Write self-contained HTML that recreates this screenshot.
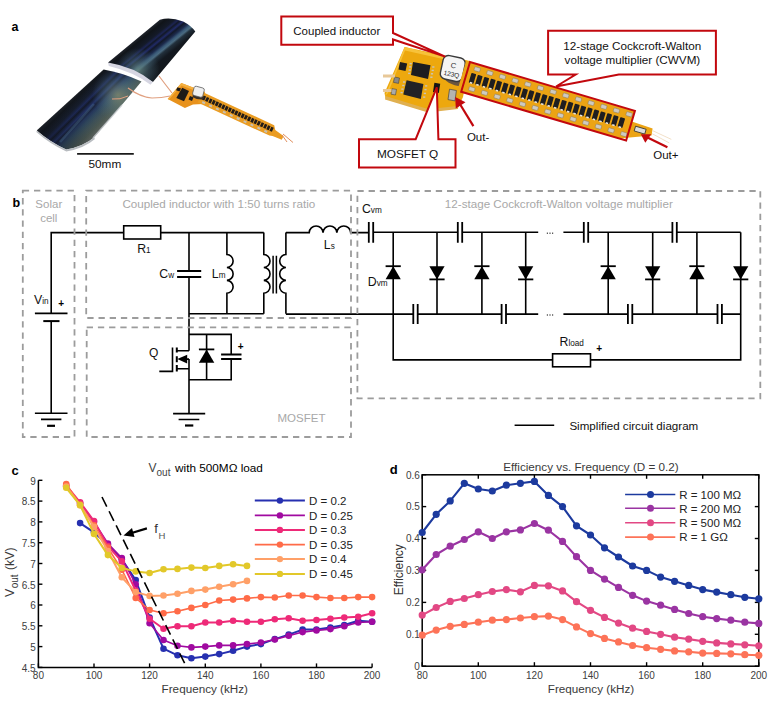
<!DOCTYPE html>
<html><head><meta charset="utf-8"><style>
html,body{margin:0;padding:0;background:#fff;}
svg{display:block;font-family:"Liberation Sans", sans-serif;}
</style></head><body>
<svg width="772" height="709" viewBox="0 0 772 709">
<rect width="772" height="709" fill="#fff"/>
<g>
<text x="11.5" y="31.0" font-size="12.5" fill="#000" text-anchor="start" font-weight="bold" >a</text>
<defs>
<linearGradient id="g1" gradientUnits="userSpaceOnUse" x1="134" y1="41" x2="160" y2="73">
 <stop offset="0" stop-color="#20242c"/><stop offset="0.08" stop-color="#101419"/>
 <stop offset="0.22" stop-color="#141a28"/><stop offset="0.28" stop-color="#1c2452"/>
 <stop offset="0.32" stop-color="#121826"/><stop offset="0.38" stop-color="#202a66"/>
 <stop offset="0.43" stop-color="#121828"/><stop offset="0.5" stop-color="#1c2a4c"/>
 <stop offset="0.56" stop-color="#3a5a78"/><stop offset="0.61" stop-color="#4a6a80"/>
 <stop offset="0.66" stop-color="#22303c"/><stop offset="0.78" stop-color="#13181f"/>
 <stop offset="1" stop-color="#12161b"/>
</linearGradient>
<radialGradient id="g4" gradientUnits="userSpaceOnUse" cx="138" cy="70" r="22">
 <stop offset="0" stop-color="#6a8a80" stop-opacity="0.75"/><stop offset="0.6" stop-color="#4a6a78" stop-opacity="0.35"/><stop offset="1" stop-color="#4a6a78" stop-opacity="0"/>
</radialGradient>
<linearGradient id="g2" gradientUnits="userSpaceOnUse" x1="68" y1="100" x2="100" y2="132.5">
 <stop offset="0" stop-color="#24282e"/><stop offset="0.1" stop-color="#12161c"/>
 <stop offset="0.24" stop-color="#171e2e"/><stop offset="0.31" stop-color="#1e2a5a"/>
 <stop offset="0.36" stop-color="#141a2a"/><stop offset="0.44" stop-color="#24346c"/>
 <stop offset="0.49" stop-color="#18203a"/><stop offset="0.56" stop-color="#283c62"/>
 <stop offset="0.64" stop-color="#344e64"/><stop offset="0.74" stop-color="#44585e"/>
 <stop offset="0.86" stop-color="#526058"/><stop offset="0.95" stop-color="#646c66"/>
 <stop offset="1" stop-color="#888c88"/>
</linearGradient>
<linearGradient id="g3" gradientUnits="userSpaceOnUse" x1="60" y1="150" x2="115" y2="95">
 <stop offset="0" stop-color="#10141c" stop-opacity="0.4"/><stop offset="0.45" stop-color="#10141c" stop-opacity="0.15"/><stop offset="1" stop-color="#10141c" stop-opacity="0"/>
</linearGradient>
<radialGradient id="g5" gradientUnits="userSpaceOnUse" cx="118" cy="95" r="26">
 <stop offset="0" stop-color="#8a9070" stop-opacity="0.7"/><stop offset="0.55" stop-color="#5a7a80" stop-opacity="0.35"/><stop offset="1" stop-color="#4a6a78" stop-opacity="0"/>
</radialGradient>
</defs>
<path d="M108.1,62.5 L159.9,19.8 Q170,16.5 183.2,21.5 Q191,25.5 195.3,31.5 L152.9,82.1 Q140,74 110.9,65.8 Z" fill="url(#g1)"/>
<path d="M108.1,62.5 L159.9,19.8 Q170,16.5 183.2,21.5 Q191,25.5 195.3,31.5 L152.9,82.1 Q140,74 110.9,65.8 Z" fill="url(#g4)"/>
<path d="M108.1,62.5 Q135,67 152.9,82.1 L150.5,84.8 Q134,72 108.8,66 Z" fill="#d6d6e2"/>
<path d="M36.8,130.5 L103.6,69.5 Q122,72.5 141.5,81.5 L120,107 L94,137.4 Q84,146 66.3,149.5 Q50,142 36.8,130.5 Z" fill="url(#g2)"/>
<path d="M36.8,130.5 L103.6,69.5 Q122,72.5 141.5,81.5 L120,107 L94,137.4 Q84,146 66.3,149.5 Q50,142 36.8,130.5 Z" fill="url(#g3)"/>
<path d="M36.8,130.5 L103.6,69.5 Q122,72.5 141.5,81.5 L120,107 L94,137.4 Q84,146 66.3,149.5 Q50,142 36.8,130.5 Z" fill="url(#g5)"/>
<path d="M94,104 L60,142" fill="none" stroke="#5a86a8" stroke-width="2.6" stroke-opacity="0.3"/>
<path d="M122,105 L108,121 L100,130 L93,138" fill="none" stroke="#c8ccd0" stroke-width="1.4" stroke-opacity="0.8"/>
<path d="M36.8,130.5 Q50,142 66.3,149.5 Q84,146 94,137.4 L95,139 Q84,148.5 66.3,151.5 Q50,144 36.3,132 Z" fill="#b8bcc0"/>
<polygon points="181.3,83.1 205,92 203,104 193,104.5 184.9,108.1 167.7,99" fill="#e8921c"/>
<polygon points="181.3,83.1 205,92 204,94 181.5,85.5 169,99.5 167.7,99" fill="#f4b040"/>
<g transform="translate(202.5,92) rotate(24.8)">
<polygon points="0,0 79,0 82,4 92,6 92,10 82,10.5 79,11.5 0,11.5" fill="#ea9c22"/>
<rect x="2.5" y="2.6" width="2.7" height="4.4" fill="#221c18"/>
<rect x="6.0" y="2.6" width="2.7" height="4.4" fill="#221c18"/>
<rect x="9.6" y="2.6" width="2.7" height="4.4" fill="#221c18"/>
<rect x="13.1" y="2.6" width="2.7" height="4.4" fill="#221c18"/>
<rect x="16.7" y="2.6" width="2.7" height="4.4" fill="#221c18"/>
<rect x="20.2" y="2.6" width="2.7" height="4.4" fill="#221c18"/>
<rect x="23.8" y="2.6" width="2.7" height="4.4" fill="#221c18"/>
<rect x="27.3" y="2.6" width="2.7" height="4.4" fill="#221c18"/>
<rect x="30.9" y="2.6" width="2.7" height="4.4" fill="#221c18"/>
<rect x="34.5" y="2.6" width="2.7" height="4.4" fill="#221c18"/>
<rect x="38.0" y="2.6" width="2.7" height="4.4" fill="#221c18"/>
<rect x="41.5" y="2.6" width="2.7" height="4.4" fill="#221c18"/>
<rect x="45.1" y="2.6" width="2.7" height="4.4" fill="#221c18"/>
<rect x="48.6" y="2.6" width="2.7" height="4.4" fill="#221c18"/>
<rect x="52.2" y="2.6" width="2.7" height="4.4" fill="#221c18"/>
<rect x="55.8" y="2.6" width="2.7" height="4.4" fill="#221c18"/>
<rect x="59.3" y="2.6" width="2.7" height="4.4" fill="#221c18"/>
<rect x="62.8" y="2.6" width="2.7" height="4.4" fill="#221c18"/>
<rect x="66.4" y="2.6" width="2.7" height="4.4" fill="#221c18"/>
<rect x="70.0" y="2.6" width="2.7" height="4.4" fill="#221c18"/>
<rect x="73.5" y="2.6" width="2.7" height="4.4" fill="#221c18"/>
<rect x="77.0" y="2.6" width="2.7" height="4.4" fill="#221c18"/>
<rect x="4.0" y="8.2" width="3" height="2" fill="#c8c0b0"/>
<rect x="11.6" y="8.2" width="3" height="2" fill="#c8c0b0"/>
<rect x="19.2" y="8.2" width="3" height="2" fill="#c8c0b0"/>
<rect x="26.8" y="8.2" width="3" height="2" fill="#c8c0b0"/>
<rect x="34.4" y="8.2" width="3" height="2" fill="#c8c0b0"/>
<rect x="42.0" y="8.2" width="3" height="2" fill="#c8c0b0"/>
<rect x="49.6" y="8.2" width="3" height="2" fill="#c8c0b0"/>
<rect x="57.2" y="8.2" width="3" height="2" fill="#c8c0b0"/>
<rect x="64.8" y="8.2" width="3" height="2" fill="#c8c0b0"/>
<rect x="72.4" y="8.2" width="3" height="2" fill="#c8c0b0"/>
</g>
<polygon points="182.2,87.7 189,90.9 184,101.3 176.3,98.1" fill="#1e1a18"/>
<polygon points="177.5,87.2 181,88.5 179.5,91.5 176,90.2" fill="#1e1a18"/>
<polygon points="190,96 193.5,97.5 192,101 188.5,99.5" fill="#1e1a18"/>
<path d="M193,94 L204,97 L203,99.5 Q197,100 192.5,97 Z" fill="#3a3028"/>
<rect x="193.2" y="87" width="10.5" height="9.5" rx="2" fill="#f0f0f0" stroke="#555" stroke-width="0.7" transform="rotate(15 198.5 91.7)"/>
<path d="M159,76 Q165,84 172,93" fill="none" stroke="#e0a080" stroke-width="1.2" />
<path d="M128,88 Q140,97 152,98 Q162,98 170,96" fill="none" stroke="#e0a080" stroke-width="1.2" />
<path d="M112,99 Q120,100 128,96" fill="none" stroke="#e0a080" stroke-width="1.0" />
<path d="M283,134 L293,142.5 M282,135 L287,142" fill="none" stroke="#e09060" stroke-width="1.0" />
<path d="M77.1,153.9 H133.8" fill="none" stroke="#1a1a1a" stroke-width="1.8" />
<text x="88.5" y="168.0" font-size="11.8" fill="#111" text-anchor="start" font-weight="normal" >50mm</text>
<path d="M404.6,47.1 L470,61 L463,97 L458,108 L428,111 L385.5,98 L384.5,93 Z" fill="#eda80e"/>
<path d="M404.6,47.1 L444.8,56.8 L443,59 L405,50.5 L388,93 L385.2,95.7 Z" fill="#f7c23a"/>
<path d="M385.5,96 L428,109 L458,106 L458,109 L428,112.5 L385,99.5 Z" fill="#e0b050"/>
<polygon points="413,62 430.5,65.3 428,78.9 411,75" fill="#1c1c20"/>
<polygon points="406.6,80.2 423.4,84 420.8,99 403.3,94.4" fill="#222226"/>
<rect x="409.6" y="62.9" width="2.2" height="1.4" fill="#c8c4bc"/>
<rect x="432.2" y="66.3" width="2.2" height="1.4" fill="#c8c4bc"/>
<rect x="403.0" y="81.3" width="2.2" height="1.4" fill="#c8c4bc"/>
<rect x="425.1" y="85.2" width="2.2" height="1.4" fill="#c8c4bc"/>
<rect x="409.1" y="66.2" width="2.2" height="1.4" fill="#c8c4bc"/>
<rect x="431.6" y="69.7" width="2.2" height="1.4" fill="#c8c4bc"/>
<rect x="402.2" y="84.8" width="2.2" height="1.4" fill="#c8c4bc"/>
<rect x="424.4" y="88.9" width="2.2" height="1.4" fill="#c8c4bc"/>
<rect x="408.6" y="69.4" width="2.2" height="1.4" fill="#c8c4bc"/>
<rect x="430.9" y="73.1" width="2.2" height="1.4" fill="#c8c4bc"/>
<rect x="401.3" y="88.4" width="2.2" height="1.4" fill="#c8c4bc"/>
<rect x="423.8" y="92.7" width="2.2" height="1.4" fill="#c8c4bc"/>
<rect x="408.1" y="72.7" width="2.2" height="1.4" fill="#c8c4bc"/>
<rect x="430.3" y="76.5" width="2.2" height="1.4" fill="#c8c4bc"/>
<rect x="400.5" y="91.9" width="2.2" height="1.4" fill="#c8c4bc"/>
<rect x="423.1" y="96.4" width="2.2" height="1.4" fill="#c8c4bc"/>
<polygon points="400,62 407.2,63.5 405.5,71 398.5,69.5" fill="#1c1c20"/>
<polygon points="434.4,82.7 440.2,83.8 438.8,93.1 433,92" fill="#141416"/>
<polygon points="449.5,89.2 456.4,90.5 455,100.9 448,99.6" fill="#b4b4b0" stroke="#444" stroke-width="0.7"/>
<polygon points="392,88.6 396.5,89.4 395.5,95 391,94.2" fill="#aaa" stroke="#333" stroke-width="0.5"/>
<polygon points="394.5,77 399.5,78 398.5,83.4 393.5,82.4" fill="#888" stroke="#333" stroke-width="0.5"/>
<path d="M383,76 H395 M383,90.5 H391.5" fill="none" stroke="#e8c898" stroke-width="3.2" />
<path d="M441,74 Q446,85 462,86.5 Q466,84 466,76 L464,70 L441,66 Z" fill="#6a5640"/>
<rect x="441.5" y="56.5" width="22.5" height="24" rx="5.5" fill="#f4f4f4" stroke="#3a3a3a" stroke-width="1.4" transform="rotate(12 452.7 68.5)"/>
<text x="452.7" y="76.5" font-size="6.5" fill="#222" text-anchor="middle" transform="rotate(12 452.7 68.5)">123Q</text>
<text x="452.7" y="68" font-size="7.5" fill="#333" text-anchor="middle" transform="rotate(12 452.7 68.5)">C</text>
<g transform="translate(470,62) rotate(16.5)">
<polygon points="-4,0 172,0 172,11 194,12 195,19 172,28 166,31 -4,31" fill="#eca414"/>
<rect x="4.5" y="10" width="5" height="10" rx="0.8" fill="#1e1e20"/>
<rect x="5.7" y="19" width="2.5" height="1.6" fill="#e8e4dc"/>
<rect x="11.2" y="10" width="5" height="10" rx="0.8" fill="#1e1e20"/>
<rect x="12.4" y="19" width="2.5" height="1.6" fill="#e8e4dc"/>
<rect x="18.0" y="10" width="5" height="10" rx="0.8" fill="#1e1e20"/>
<rect x="19.2" y="19" width="2.5" height="1.6" fill="#e8e4dc"/>
<rect x="24.8" y="10" width="5" height="10" rx="0.8" fill="#1e1e20"/>
<rect x="25.9" y="19" width="2.5" height="1.6" fill="#e8e4dc"/>
<rect x="31.5" y="10" width="5" height="10" rx="0.8" fill="#1e1e20"/>
<rect x="32.7" y="19" width="2.5" height="1.6" fill="#e8e4dc"/>
<rect x="38.2" y="10" width="5" height="10" rx="0.8" fill="#1e1e20"/>
<rect x="39.5" y="19" width="2.5" height="1.6" fill="#e8e4dc"/>
<rect x="45.0" y="10" width="5" height="10" rx="0.8" fill="#1e1e20"/>
<rect x="46.2" y="19" width="2.5" height="1.6" fill="#e8e4dc"/>
<rect x="51.8" y="10" width="5" height="10" rx="0.8" fill="#1e1e20"/>
<rect x="53.0" y="19" width="2.5" height="1.6" fill="#e8e4dc"/>
<rect x="58.5" y="10" width="5" height="10" rx="0.8" fill="#1e1e20"/>
<rect x="59.7" y="19" width="2.5" height="1.6" fill="#e8e4dc"/>
<rect x="65.2" y="10" width="5" height="10" rx="0.8" fill="#1e1e20"/>
<rect x="66.5" y="19" width="2.5" height="1.6" fill="#e8e4dc"/>
<rect x="72.0" y="10" width="5" height="10" rx="0.8" fill="#1e1e20"/>
<rect x="73.2" y="19" width="2.5" height="1.6" fill="#e8e4dc"/>
<rect x="78.8" y="10" width="5" height="10" rx="0.8" fill="#1e1e20"/>
<rect x="80.0" y="19" width="2.5" height="1.6" fill="#e8e4dc"/>
<rect x="85.5" y="10" width="5" height="10" rx="0.8" fill="#1e1e20"/>
<rect x="86.7" y="19" width="2.5" height="1.6" fill="#e8e4dc"/>
<rect x="92.2" y="10" width="5" height="10" rx="0.8" fill="#1e1e20"/>
<rect x="93.5" y="19" width="2.5" height="1.6" fill="#e8e4dc"/>
<rect x="99.0" y="10" width="5" height="10" rx="0.8" fill="#1e1e20"/>
<rect x="100.2" y="19" width="2.5" height="1.6" fill="#e8e4dc"/>
<rect x="105.8" y="10" width="5" height="10" rx="0.8" fill="#1e1e20"/>
<rect x="107.0" y="19" width="2.5" height="1.6" fill="#e8e4dc"/>
<rect x="112.5" y="10" width="5" height="10" rx="0.8" fill="#1e1e20"/>
<rect x="113.7" y="19" width="2.5" height="1.6" fill="#e8e4dc"/>
<rect x="119.2" y="10" width="5" height="10" rx="0.8" fill="#1e1e20"/>
<rect x="120.5" y="19" width="2.5" height="1.6" fill="#e8e4dc"/>
<rect x="126.0" y="10" width="5" height="10" rx="0.8" fill="#1e1e20"/>
<rect x="127.2" y="19" width="2.5" height="1.6" fill="#e8e4dc"/>
<rect x="132.8" y="10" width="5" height="10" rx="0.8" fill="#1e1e20"/>
<rect x="133.9" y="19" width="2.5" height="1.6" fill="#e8e4dc"/>
<rect x="139.5" y="10" width="5" height="10" rx="0.8" fill="#1e1e20"/>
<rect x="140.7" y="19" width="2.5" height="1.6" fill="#e8e4dc"/>
<rect x="146.2" y="10" width="5" height="10" rx="0.8" fill="#1e1e20"/>
<rect x="147.4" y="19" width="2.5" height="1.6" fill="#e8e4dc"/>
<rect x="153.0" y="10" width="5" height="10" rx="0.8" fill="#1e1e20"/>
<rect x="154.2" y="19" width="2.5" height="1.6" fill="#e8e4dc"/>
<rect x="159.8" y="10" width="5" height="10" rx="0.8" fill="#1e1e20"/>
<rect x="160.9" y="19" width="2.5" height="1.6" fill="#e8e4dc"/>
<rect x="6.0" y="3" width="6" height="4" rx="1" fill="#cfcac0" stroke="#8a7a60" stroke-width="0.5"/>
<rect x="6.5" y="23.5" width="6" height="4" rx="1" fill="#cfcac0" stroke="#8a7a60" stroke-width="0.5"/>
<rect x="19.2" y="3" width="6" height="4" rx="1" fill="#cfcac0" stroke="#8a7a60" stroke-width="0.5"/>
<rect x="19.7" y="23.5" width="6" height="4" rx="1" fill="#cfcac0" stroke="#8a7a60" stroke-width="0.5"/>
<rect x="32.4" y="3" width="6" height="4" rx="1" fill="#cfcac0" stroke="#8a7a60" stroke-width="0.5"/>
<rect x="32.9" y="23.5" width="6" height="4" rx="1" fill="#cfcac0" stroke="#8a7a60" stroke-width="0.5"/>
<rect x="45.6" y="3" width="6" height="4" rx="1" fill="#cfcac0" stroke="#8a7a60" stroke-width="0.5"/>
<rect x="46.1" y="23.5" width="6" height="4" rx="1" fill="#cfcac0" stroke="#8a7a60" stroke-width="0.5"/>
<rect x="58.8" y="3" width="6" height="4" rx="1" fill="#cfcac0" stroke="#8a7a60" stroke-width="0.5"/>
<rect x="59.3" y="23.5" width="6" height="4" rx="1" fill="#cfcac0" stroke="#8a7a60" stroke-width="0.5"/>
<rect x="72.0" y="3" width="6" height="4" rx="1" fill="#cfcac0" stroke="#8a7a60" stroke-width="0.5"/>
<rect x="72.5" y="23.5" width="6" height="4" rx="1" fill="#cfcac0" stroke="#8a7a60" stroke-width="0.5"/>
<rect x="85.2" y="3" width="6" height="4" rx="1" fill="#cfcac0" stroke="#8a7a60" stroke-width="0.5"/>
<rect x="85.7" y="23.5" width="6" height="4" rx="1" fill="#cfcac0" stroke="#8a7a60" stroke-width="0.5"/>
<rect x="98.4" y="3" width="6" height="4" rx="1" fill="#cfcac0" stroke="#8a7a60" stroke-width="0.5"/>
<rect x="98.9" y="23.5" width="6" height="4" rx="1" fill="#cfcac0" stroke="#8a7a60" stroke-width="0.5"/>
<rect x="111.6" y="3" width="6" height="4" rx="1" fill="#cfcac0" stroke="#8a7a60" stroke-width="0.5"/>
<rect x="112.1" y="23.5" width="6" height="4" rx="1" fill="#cfcac0" stroke="#8a7a60" stroke-width="0.5"/>
<rect x="124.8" y="3" width="6" height="4" rx="1" fill="#cfcac0" stroke="#8a7a60" stroke-width="0.5"/>
<rect x="125.3" y="23.5" width="6" height="4" rx="1" fill="#cfcac0" stroke="#8a7a60" stroke-width="0.5"/>
<rect x="138.0" y="3" width="6" height="4" rx="1" fill="#cfcac0" stroke="#8a7a60" stroke-width="0.5"/>
<rect x="138.5" y="23.5" width="6" height="4" rx="1" fill="#cfcac0" stroke="#8a7a60" stroke-width="0.5"/>
<rect x="151.2" y="3" width="6" height="4" rx="1" fill="#cfcac0" stroke="#8a7a60" stroke-width="0.5"/>
<rect x="151.7" y="23.5" width="6" height="4" rx="1" fill="#cfcac0" stroke="#8a7a60" stroke-width="0.5"/>
<rect x="164.4" y="3" width="6" height="4" rx="1" fill="#cfcac0" stroke="#8a7a60" stroke-width="0.5"/>
<rect x="164.9" y="23.5" width="6" height="4" rx="1" fill="#cfcac0" stroke="#8a7a60" stroke-width="0.5"/>
<rect x="177" y="14.5" width="11" height="5" fill="#ddd" stroke="#333" stroke-width="0.8"/>
<path d="M195,14 L215,17 M195,17 L214,21" fill="none" stroke="#f0dcc0" stroke-width="0.8" />
<rect x="0" y="0" width="172" height="31" fill="none" stroke="#c2080e" stroke-width="2"/>
</g>
<path d="M281.3,16.6 H393 V33 L445.2,56.6 L393,39.5 V44.7 H281.3 Z" fill="#fff" stroke="#c2080e" stroke-width="2"/>
<text x="293.3" y="35.0" font-size="11.5" fill="#111" text-anchor="start" font-weight="normal" >Coupled inductor</text>
<path d="M359,139.2 H415.7 L436.8,87.4 L438.4,139.2 H455.5 V167.6 H359 Z" fill="#fff" stroke="#c2080e" stroke-width="2"/>
<text x="376.9" y="157.9" font-size="11.8" fill="#111" text-anchor="start" font-weight="normal" >MOSFET Q</text>
<path d="M548.1,30.8 H715.9 V74.6 H618.8 L556,86.5 L575.7,74.6 H548.1 Z" fill="#fff" stroke="#c2080e" stroke-width="2"/>
<text x="632.2" y="50.3" font-size="11.7" fill="#111" text-anchor="middle" font-weight="normal" >12-stage Cockcroft-Walton</text>
<text x="632.4" y="63.7" font-size="11.7" fill="#111" text-anchor="middle" font-weight="normal" >voltage multiplier (CWVM)</text>
<path d="M473.4,126.1 L460.5,105" fill="none" stroke="#c2080e" stroke-width="2.2" />
<polygon points="455.2,97.1 455.8,108.5 465.5,102.3" fill="#c2080e"/>
<text x="466.9" y="140.9" font-size="11.5" fill="#111" text-anchor="start" font-weight="normal" >Out-</text>
<path d="M667.4,147.3 L647.5,137.5" fill="none" stroke="#c2080e" stroke-width="2.2" />
<polygon points="640.8,134.3 645.3,142.7 651.2,134.3" fill="#c2080e"/>
<text x="653.2" y="159.4" font-size="11.5" fill="#111" text-anchor="start" font-weight="normal" >Out+</text>
</g>
<g>
<text x="48.8" y="208.3" font-size="11.5" fill="#a8a8a8" text-anchor="middle" font-weight="normal" >Solar</text>
<text x="48.8" y="222.4" font-size="11.5" fill="#a8a8a8" text-anchor="middle" font-weight="normal" >cell</text>
<text x="218.8" y="207.5" font-size="11.65" fill="#a8a8a8" text-anchor="middle" font-weight="normal" >Coupled inductor with 1:50 turns ratio</text>
<text x="558.8" y="208.0" font-size="11.65" fill="#a8a8a8" text-anchor="middle" font-weight="normal" >12-stage Cockcroft-Walton voltage multiplier</text>
<text x="301.5" y="422.0" font-size="11.5" fill="#a8a8a8" text-anchor="middle" font-weight="normal" >MOSFET</text>
<text x="12.5" y="207.0" font-size="12.5" fill="#000" text-anchor="start" font-weight="bold" >b</text>
<path d="M51.2,313.4 V232.6 H123.7" fill="none" stroke="#000" stroke-width="1.6" />
<rect x="123.7" y="225.8" width="37" height="13.2" fill="none" stroke="#000" stroke-width="1.6"/>
<path d="M160.7,232.6 H263.8" fill="none" stroke="#000" stroke-width="1.6" />
<path d="M34.9,313.4 H67.5" fill="none" stroke="#000" stroke-width="1.6" />
<path d="M43.3,321.1 H59.5" fill="none" stroke="#000" stroke-width="2.0" />
<path d="M51.2,321.1 V413.3" fill="none" stroke="#000" stroke-width="1.6" />
<path d="M34.9,413.3 H67.5 M41,419.4 H61.4" fill="none" stroke="#000" stroke-width="1.6" />
<path d="M47.1,425.8 H55" fill="none" stroke="#000" stroke-width="2.2" />
<text x="34.0" y="304.4" font-size="12.3" fill="#111" text-anchor="start" font-weight="normal" >V<tspan font-size="8.2">in</tspan></text>
<text x="61.2" y="306.5" font-size="10" fill="#000" text-anchor="middle" font-weight="bold" >+</text>
<text x="137.2" y="253.0" font-size="12.3" fill="#111" text-anchor="start" font-weight="normal" >R<tspan font-size="8.2">1</tspan></text>
<path d="M189,232.6 V270.9 M189,276.9 V350.7" fill="none" stroke="#000" stroke-width="1.6" />
<path d="M177.1,270.9 H201.2 M177.1,276.9 H201.2" fill="none" stroke="#000" stroke-width="2.0" />
<text x="159.3" y="277.7" font-size="12.3" fill="#111" text-anchor="start" font-weight="normal" >C<tspan font-size="8.2">w</tspan></text>
<path d="M226.9,232.6 V254.5 a6.47,6.47 0 0 1 0,12.93 a6.47,6.47 0 0 1 0,12.93 a6.47,6.47 0 0 1 0,12.93  V313.8" fill="none" stroke="#000" stroke-width="1.6" />
<text x="211.8" y="277.6" font-size="12.3" fill="#111" text-anchor="start" font-weight="normal" >L<tspan font-size="8.2">m</tspan></text>
<path d="M263.8,232.6 V254.5 a6.47,6.47 0 0 1 0,12.93 a6.47,6.47 0 0 1 0,12.93 a6.47,6.47 0 0 1 0,12.93  V313.8" fill="none" stroke="#000" stroke-width="1.6" />
<path d="M189,313.8 H263.8" fill="none" stroke="#000" stroke-width="1.6" />
<path d="M273.1,255.7 V293.6 M276.4,255.7 V293.6" fill="none" stroke="#000" stroke-width="1.5" />
<path d="M285.9,232.6 V254.5 a6.47,6.47 0 0 0 0,12.93 a6.47,6.47 0 0 0 0,12.93 a6.47,6.47 0 0 0 0,12.93  V313.8" fill="none" stroke="#000" stroke-width="1.6" />
<path d="M285.9,232.6 H309.2 a6.92,6.92 0 0 1 13.83,0 a6.92,6.92 0 0 1 13.83,0 a6.92,6.92 0 0 1 13.83,0  H368.8" fill="none" stroke="#000" stroke-width="1.6" />
<text x="323.8" y="249.2" font-size="12.3" fill="#111" text-anchor="start" font-weight="normal" >L<tspan font-size="8.2">s</tspan></text>
<path d="M368.8,222.0 V242.8 M373.2,222.0 V242.8" fill="none" stroke="#000" stroke-width="1.8" />
<text x="361.9" y="212.7" font-size="12.3" fill="#111" text-anchor="start" font-weight="normal" >C<tspan font-size="8.2">vm</tspan></text>
<text x="367.8" y="285.7" font-size="12.3" fill="#111" text-anchor="start" font-weight="normal" >D<tspan font-size="8.2">vm</tspan></text>
<path d="M373.2,232.3 H457.9 M462.2,232.3 H538.2" fill="none" stroke="#000" stroke-width="1.6" />
<path d="M457.8,221.9 V242.7 M462.2,221.9 V242.7" fill="none" stroke="#000" stroke-width="1.8" />
<path d="M285.9,314.1 H413.3 M417.7,314.1 H501.6 M506,314.1 H538.2" fill="none" stroke="#000" stroke-width="1.6" />
<path d="M413.3,304.1 V324.1 M417.7,304.1 V324.1" fill="none" stroke="#000" stroke-width="1.8" />
<path d="M501.6,304.1 V324.1 M506.0,304.1 V324.1" fill="none" stroke="#000" stroke-width="1.8" />
<path d="M563.4,232.3 H583.8 M588.2,232.3 H672.4 M676.8,232.3 H740.7" fill="none" stroke="#000" stroke-width="1.6" />
<path d="M583.8,221.9 V242.7 M588.2,221.9 V242.7" fill="none" stroke="#000" stroke-width="1.8" />
<path d="M672.4,221.9 V242.7 M676.8,221.9 V242.7" fill="none" stroke="#000" stroke-width="1.8" />
<path d="M563.4,314.1 H627.9 M632.3,314.1 H717.5 M721.9,314.1 H740.7" fill="none" stroke="#000" stroke-width="1.6" />
<path d="M627.9,304.1 V324.1 M632.3,304.1 V324.1" fill="none" stroke="#000" stroke-width="1.8" />
<path d="M717.5,304.1 V324.1 M721.9,304.1 V324.1" fill="none" stroke="#000" stroke-width="1.8" />
<path d="M393.2,232.3 V314.1" fill="none" stroke="#000" stroke-width="1.6" />
<polygon points="393.2,266.2 385.6,279.2 400.8,279.2" fill="#000"/>
<path d="M385.6,266.2 H400.8" fill="none" stroke="#000" stroke-width="1.8" />
<path d="M437.0,232.3 V314.1" fill="none" stroke="#000" stroke-width="1.6" />
<polygon points="437.0,279.4 429.4,266.2 444.6,266.2" fill="#000"/>
<path d="M429.4,279.4 H444.6" fill="none" stroke="#000" stroke-width="1.8" />
<path d="M481.9,232.3 V314.1" fill="none" stroke="#000" stroke-width="1.6" />
<polygon points="481.9,266.2 474.3,279.2 489.5,279.2" fill="#000"/>
<path d="M474.3,266.2 H489.5" fill="none" stroke="#000" stroke-width="1.8" />
<path d="M525.7,232.3 V314.1" fill="none" stroke="#000" stroke-width="1.6" />
<polygon points="525.7,279.4 518.1,266.2 533.3,266.2" fill="#000"/>
<path d="M518.1,279.4 H533.3" fill="none" stroke="#000" stroke-width="1.8" />
<path d="M608.2,232.3 V314.1" fill="none" stroke="#000" stroke-width="1.6" />
<polygon points="608.2,266.2 600.6,279.2 615.8,279.2" fill="#000"/>
<path d="M600.6,266.2 H615.8" fill="none" stroke="#000" stroke-width="1.8" />
<path d="M652.7,232.3 V314.1" fill="none" stroke="#000" stroke-width="1.6" />
<polygon points="652.7,279.4 645.1,266.2 660.3,266.2" fill="#000"/>
<path d="M645.1,279.4 H660.3" fill="none" stroke="#000" stroke-width="1.8" />
<path d="M696.9,232.3 V314.1" fill="none" stroke="#000" stroke-width="1.6" />
<polygon points="696.9,266.2 689.3,279.2 704.5,279.2" fill="#000"/>
<path d="M689.3,266.2 H704.5" fill="none" stroke="#000" stroke-width="1.8" />
<path d="M740.7,232.3 V314.1" fill="none" stroke="#000" stroke-width="1.6" />
<polygon points="740.7,279.4 733.1,266.2 748.3,266.2" fill="#000"/>
<path d="M733.1,279.4 H748.3" fill="none" stroke="#000" stroke-width="1.8" />
<rect x="546.8" y="232.6" width="1.2" height="1.2" fill="#333"/>
<rect x="549.4" y="232.6" width="1.2" height="1.2" fill="#333"/>
<rect x="552.0" y="232.6" width="1.2" height="1.2" fill="#333"/>
<rect x="546.8" y="314.4" width="1.2" height="1.2" fill="#333"/>
<rect x="549.4" y="314.4" width="1.2" height="1.2" fill="#333"/>
<rect x="552.0" y="314.4" width="1.2" height="1.2" fill="#333"/>
<path d="M393.2,314.1 V359.9 H552.6 M590.5,359.9 H740.7 V314.1" fill="none" stroke="#000" stroke-width="1.6" />
<rect x="552.6" y="353.8" width="37.9" height="13" fill="none" stroke="#000" stroke-width="1.6"/>
<text x="559.5" y="345.7" font-size="12.3" fill="#111" text-anchor="start" font-weight="normal" >R<tspan font-size="8.2">load</tspan></text>
<text x="599.2" y="352.0" font-size="10" fill="#000" text-anchor="middle" font-weight="bold" >+</text>
<path d="M189,334.4 H231.2 V354.4 M231.2,359.1 V379.7 H189" fill="none" stroke="#000" stroke-width="1.6" />
<path d="M221.1,354.4 H241.5 M221.1,359.1 H241.5" fill="none" stroke="#000" stroke-width="2.0" />
<text x="240.6" y="350.0" font-size="10" fill="#000" text-anchor="middle" font-weight="bold" >+</text>
<path d="M206.6,334.4 V379.7" fill="none" stroke="#000" stroke-width="1.6" />
<polygon points="206.6,349.4 198.9,362.8 214.3,362.8" fill="#000"/>
<path d="M198.9,349.4 H214.3" fill="none" stroke="#000" stroke-width="1.8" />
<path d="M176.8,350.7 H189 M176.8,368.7 H189 V413.6 M189,359.1 V368.7 M185,359.1 H189" fill="none" stroke="#000" stroke-width="1.6" />
<polygon points="177.3,359.1 187.2,354.8 187.2,363.4" fill="#000"/>
<path d="M176.8,347.6 V352.5 M176.8,356.2 V362.3 M176.8,365 V371.4" fill="none" stroke="#000" stroke-width="2.0" />
<path d="M172.5,347.6 V371.4 H159.3" fill="none" stroke="#000" stroke-width="1.6" />
<text x="148.9" y="357.3" font-size="12" fill="#111" text-anchor="start" font-weight="normal" >Q</text>
<path d="M173.1,413.6 H205.2 M178.6,419.5 H199.3" fill="none" stroke="#000" stroke-width="1.6" />
<path d="M185,425.5 H193.3" fill="none" stroke="#000" stroke-width="2.2" />
<path d="M22.8,190.6 H74.5 V437 H22.8 Z" fill="none" stroke="#9c9c9c" stroke-width="1.8" stroke-dasharray="6.3,4.9"/>
<path d="M86.2,190.6 H351 V318 H86.2 Z" fill="none" stroke="#9c9c9c" stroke-width="1.8" stroke-dasharray="6.3,4.9"/>
<path d="M86.7,327.4 H351 V437 H86.7 Z" fill="none" stroke="#9c9c9c" stroke-width="1.8" stroke-dasharray="6.3,4.9"/>
<path d="M357.4,191 H760.3 V398.4 H357.4 Z" fill="none" stroke="#9c9c9c" stroke-width="1.8" stroke-dasharray="6.3,4.9"/>
<path d="M514.6,425.3 H554.2" fill="none" stroke="#000" stroke-width="1.6" />
<text x="569.4" y="430.0" font-size="11.6" fill="#111" text-anchor="start" font-weight="normal" >Simplified circuit diagram</text>
</g>
<g>
<path d="M38.4,480.3 V667.4 H372.1" fill="none" stroke="#000" stroke-width="1.5"/>
<line x1="38.4" y1="667.4" x2="42.4" y2="667.4" stroke="#000" stroke-width="1.4"/>
<text x="35.7" y="671.7" font-size="10" fill="#404040" text-anchor="end" font-weight="normal" >4.5</text>
<line x1="38.4" y1="646.6" x2="42.4" y2="646.6" stroke="#000" stroke-width="1.4"/>
<text x="35.7" y="650.9" font-size="10" fill="#404040" text-anchor="end" font-weight="normal" >5</text>
<line x1="38.4" y1="625.8" x2="42.4" y2="625.8" stroke="#000" stroke-width="1.4"/>
<text x="35.7" y="630.1" font-size="10" fill="#404040" text-anchor="end" font-weight="normal" >5.5</text>
<line x1="38.4" y1="605.0" x2="42.4" y2="605.0" stroke="#000" stroke-width="1.4"/>
<text x="35.7" y="609.3" font-size="10" fill="#404040" text-anchor="end" font-weight="normal" >6</text>
<line x1="38.4" y1="584.2" x2="42.4" y2="584.2" stroke="#000" stroke-width="1.4"/>
<text x="35.7" y="588.5" font-size="10" fill="#404040" text-anchor="end" font-weight="normal" >6.5</text>
<line x1="38.4" y1="563.5" x2="42.4" y2="563.5" stroke="#000" stroke-width="1.4"/>
<text x="35.7" y="567.8" font-size="10" fill="#404040" text-anchor="end" font-weight="normal" >7</text>
<line x1="38.4" y1="542.7" x2="42.4" y2="542.7" stroke="#000" stroke-width="1.4"/>
<text x="35.7" y="547.0" font-size="10" fill="#404040" text-anchor="end" font-weight="normal" >7.5</text>
<line x1="38.4" y1="521.9" x2="42.4" y2="521.9" stroke="#000" stroke-width="1.4"/>
<text x="35.7" y="526.2" font-size="10" fill="#404040" text-anchor="end" font-weight="normal" >8</text>
<line x1="38.4" y1="501.1" x2="42.4" y2="501.1" stroke="#000" stroke-width="1.4"/>
<text x="35.7" y="505.4" font-size="10" fill="#404040" text-anchor="end" font-weight="normal" >8.5</text>
<line x1="38.4" y1="480.3" x2="42.4" y2="480.3" stroke="#000" stroke-width="1.4"/>
<text x="35.7" y="484.6" font-size="10" fill="#404040" text-anchor="end" font-weight="normal" >9</text>
<line x1="38.4" y1="667.4" x2="38.4" y2="663.4" stroke="#000" stroke-width="1.4"/>
<text x="38.4" y="678.9" font-size="10" fill="#404040" text-anchor="middle" font-weight="normal" >80</text>
<line x1="94.0" y1="667.4" x2="94.0" y2="663.4" stroke="#000" stroke-width="1.4"/>
<text x="94.0" y="678.9" font-size="10" fill="#404040" text-anchor="middle" font-weight="normal" >100</text>
<line x1="149.6" y1="667.4" x2="149.6" y2="663.4" stroke="#000" stroke-width="1.4"/>
<text x="149.6" y="678.9" font-size="10" fill="#404040" text-anchor="middle" font-weight="normal" >120</text>
<line x1="205.3" y1="667.4" x2="205.3" y2="663.4" stroke="#000" stroke-width="1.4"/>
<text x="205.3" y="678.9" font-size="10" fill="#404040" text-anchor="middle" font-weight="normal" >140</text>
<line x1="260.9" y1="667.4" x2="260.9" y2="663.4" stroke="#000" stroke-width="1.4"/>
<text x="260.9" y="678.9" font-size="10" fill="#404040" text-anchor="middle" font-weight="normal" >160</text>
<line x1="316.5" y1="667.4" x2="316.5" y2="663.4" stroke="#000" stroke-width="1.4"/>
<text x="316.5" y="678.9" font-size="10" fill="#404040" text-anchor="middle" font-weight="normal" >180</text>
<line x1="372.1" y1="667.4" x2="372.1" y2="663.4" stroke="#000" stroke-width="1.4"/>
<text x="372.1" y="678.9" font-size="10" fill="#404040" text-anchor="middle" font-weight="normal" >200</text>
<text x="204.8" y="692.6" font-size="11.7" fill="#3a3a3a" text-anchor="middle" font-weight="normal" >Frequency (kHz)</text>
<text transform="translate(13.8,597) rotate(-90)" font-size="12.3" fill="#3a3a3a">V<tspan font-size="10" dy="4.5" dx="0.5">out</tspan><tspan dy="-4.5" dx="1"> (kV)</tspan></text>
<text x="148.5" y="471.5" font-size="12" fill="#000"><tspan fill="#444">V</tspan><tspan font-size="10" dy="4.5" fill="#444">out</tspan><tspan dy="-4.5" dx="1.4" font-size="11.75"> with 500M&#937; load</tspan></text>
<polyline points="80.1,523.1 94.0,532.3 107.9,544.7 121.8,559.3 135.7,580.1 149.6,617.5 163.5,648.7 177.5,655.3 191.4,658.3 205.3,656.6 219.2,654.1 233.1,650.8 247.0,646.6 260.9,644.1 274.8,639.1 288.7,634.6 302.6,629.6 316.5,629.6 330.4,627.5 344.3,625.0 358.2,620.8 372.1,621.7" fill="none" stroke="#2630b0" stroke-width="2.0" stroke-linejoin="round"/>
<circle cx="80.1" cy="523.1" r="3.3" fill="#2630b0"/>
<circle cx="94.0" cy="532.3" r="3.3" fill="#2630b0"/>
<circle cx="107.9" cy="544.7" r="3.3" fill="#2630b0"/>
<circle cx="121.8" cy="559.3" r="3.3" fill="#2630b0"/>
<circle cx="135.7" cy="580.1" r="3.3" fill="#2630b0"/>
<circle cx="149.6" cy="617.5" r="3.3" fill="#2630b0"/>
<circle cx="163.5" cy="648.7" r="3.3" fill="#2630b0"/>
<circle cx="177.5" cy="655.3" r="3.3" fill="#2630b0"/>
<circle cx="191.4" cy="658.3" r="3.3" fill="#2630b0"/>
<circle cx="205.3" cy="656.6" r="3.3" fill="#2630b0"/>
<circle cx="219.2" cy="654.1" r="3.3" fill="#2630b0"/>
<circle cx="233.1" cy="650.8" r="3.3" fill="#2630b0"/>
<circle cx="247.0" cy="646.6" r="3.3" fill="#2630b0"/>
<circle cx="260.9" cy="644.1" r="3.3" fill="#2630b0"/>
<circle cx="274.8" cy="639.1" r="3.3" fill="#2630b0"/>
<circle cx="288.7" cy="634.6" r="3.3" fill="#2630b0"/>
<circle cx="302.6" cy="629.6" r="3.3" fill="#2630b0"/>
<circle cx="316.5" cy="629.6" r="3.3" fill="#2630b0"/>
<circle cx="330.4" cy="627.5" r="3.3" fill="#2630b0"/>
<circle cx="344.3" cy="625.0" r="3.3" fill="#2630b0"/>
<circle cx="358.2" cy="620.8" r="3.3" fill="#2630b0"/>
<circle cx="372.1" cy="621.7" r="3.3" fill="#2630b0"/>
<polyline points="66.2,486.5 80.1,503.2 94.0,521.9 107.9,543.5 121.8,558.0 135.7,584.2 149.6,623.3 163.5,640.0 177.5,645.8 191.4,647.4 205.3,646.6 219.2,645.4 233.1,645.4 247.0,644.1 260.9,642.5 274.8,639.5 288.7,635.8 302.6,632.1 316.5,630.4 330.4,629.1 344.3,626.2 358.2,622.5 372.1,621.7" fill="none" stroke="#a00aa0" stroke-width="1.6" stroke-linejoin="round"/>
<circle cx="66.2" cy="486.5" r="3.3" fill="#a00aa0"/>
<circle cx="80.1" cy="503.2" r="3.3" fill="#a00aa0"/>
<circle cx="94.0" cy="521.9" r="3.3" fill="#a00aa0"/>
<circle cx="107.9" cy="543.5" r="3.3" fill="#a00aa0"/>
<circle cx="121.8" cy="558.0" r="3.3" fill="#a00aa0"/>
<circle cx="135.7" cy="584.2" r="3.3" fill="#a00aa0"/>
<circle cx="149.6" cy="623.3" r="3.3" fill="#a00aa0"/>
<circle cx="163.5" cy="640.0" r="3.3" fill="#a00aa0"/>
<circle cx="177.5" cy="645.8" r="3.3" fill="#a00aa0"/>
<circle cx="191.4" cy="647.4" r="3.3" fill="#a00aa0"/>
<circle cx="205.3" cy="646.6" r="3.3" fill="#a00aa0"/>
<circle cx="219.2" cy="645.4" r="3.3" fill="#a00aa0"/>
<circle cx="233.1" cy="645.4" r="3.3" fill="#a00aa0"/>
<circle cx="247.0" cy="644.1" r="3.3" fill="#a00aa0"/>
<circle cx="260.9" cy="642.5" r="3.3" fill="#a00aa0"/>
<circle cx="274.8" cy="639.5" r="3.3" fill="#a00aa0"/>
<circle cx="288.7" cy="635.8" r="3.3" fill="#a00aa0"/>
<circle cx="302.6" cy="632.1" r="3.3" fill="#a00aa0"/>
<circle cx="316.5" cy="630.4" r="3.3" fill="#a00aa0"/>
<circle cx="330.4" cy="629.1" r="3.3" fill="#a00aa0"/>
<circle cx="344.3" cy="626.2" r="3.3" fill="#a00aa0"/>
<circle cx="358.2" cy="622.5" r="3.3" fill="#a00aa0"/>
<circle cx="372.1" cy="621.7" r="3.3" fill="#a00aa0"/>
<polyline points="66.2,485.3 80.1,502.3 94.0,521.0 107.9,546.0 121.8,561.4 135.7,590.5 149.6,618.8 163.5,628.7 177.5,626.2 191.4,626.2 205.3,622.5 219.2,622.5 233.1,620.8 247.0,621.7 260.9,621.7 274.8,619.2 288.7,618.3 302.6,620.8 316.5,620.0 330.4,618.8 344.3,617.5 358.2,616.7 372.1,613.3" fill="none" stroke="#ee2a78" stroke-width="2.0" stroke-linejoin="round"/>
<circle cx="66.2" cy="485.3" r="3.3" fill="#ee2a78"/>
<circle cx="80.1" cy="502.3" r="3.3" fill="#ee2a78"/>
<circle cx="94.0" cy="521.0" r="3.3" fill="#ee2a78"/>
<circle cx="107.9" cy="546.0" r="3.3" fill="#ee2a78"/>
<circle cx="121.8" cy="561.4" r="3.3" fill="#ee2a78"/>
<circle cx="135.7" cy="590.5" r="3.3" fill="#ee2a78"/>
<circle cx="149.6" cy="618.8" r="3.3" fill="#ee2a78"/>
<circle cx="163.5" cy="628.7" r="3.3" fill="#ee2a78"/>
<circle cx="177.5" cy="626.2" r="3.3" fill="#ee2a78"/>
<circle cx="191.4" cy="626.2" r="3.3" fill="#ee2a78"/>
<circle cx="205.3" cy="622.5" r="3.3" fill="#ee2a78"/>
<circle cx="219.2" cy="622.5" r="3.3" fill="#ee2a78"/>
<circle cx="233.1" cy="620.8" r="3.3" fill="#ee2a78"/>
<circle cx="247.0" cy="621.7" r="3.3" fill="#ee2a78"/>
<circle cx="260.9" cy="621.7" r="3.3" fill="#ee2a78"/>
<circle cx="274.8" cy="619.2" r="3.3" fill="#ee2a78"/>
<circle cx="288.7" cy="618.3" r="3.3" fill="#ee2a78"/>
<circle cx="302.6" cy="620.8" r="3.3" fill="#ee2a78"/>
<circle cx="316.5" cy="620.0" r="3.3" fill="#ee2a78"/>
<circle cx="330.4" cy="618.8" r="3.3" fill="#ee2a78"/>
<circle cx="344.3" cy="617.5" r="3.3" fill="#ee2a78"/>
<circle cx="358.2" cy="616.7" r="3.3" fill="#ee2a78"/>
<circle cx="372.1" cy="613.3" r="3.3" fill="#ee2a78"/>
<polyline points="66.2,484.0 80.1,504.4 94.0,525.2 107.9,547.6 121.8,569.7 135.7,598.0 149.6,610.0 163.5,613.3 177.5,611.3 191.4,607.9 205.3,605.0 219.2,600.5 233.1,599.6 247.0,598.4 260.9,597.1 274.8,597.5 288.7,595.5 302.6,595.5 316.5,597.1 330.4,598.0 344.3,598.0 358.2,597.1 372.1,597.1" fill="none" stroke="#ff6b48" stroke-width="1.6" stroke-linejoin="round"/>
<circle cx="66.2" cy="484.0" r="3.3" fill="#ff6b48"/>
<circle cx="80.1" cy="504.4" r="3.3" fill="#ff6b48"/>
<circle cx="94.0" cy="525.2" r="3.3" fill="#ff6b48"/>
<circle cx="107.9" cy="547.6" r="3.3" fill="#ff6b48"/>
<circle cx="121.8" cy="569.7" r="3.3" fill="#ff6b48"/>
<circle cx="135.7" cy="598.0" r="3.3" fill="#ff6b48"/>
<circle cx="149.6" cy="610.0" r="3.3" fill="#ff6b48"/>
<circle cx="163.5" cy="613.3" r="3.3" fill="#ff6b48"/>
<circle cx="177.5" cy="611.3" r="3.3" fill="#ff6b48"/>
<circle cx="191.4" cy="607.9" r="3.3" fill="#ff6b48"/>
<circle cx="205.3" cy="605.0" r="3.3" fill="#ff6b48"/>
<circle cx="219.2" cy="600.5" r="3.3" fill="#ff6b48"/>
<circle cx="233.1" cy="599.6" r="3.3" fill="#ff6b48"/>
<circle cx="247.0" cy="598.4" r="3.3" fill="#ff6b48"/>
<circle cx="260.9" cy="597.1" r="3.3" fill="#ff6b48"/>
<circle cx="274.8" cy="597.5" r="3.3" fill="#ff6b48"/>
<circle cx="288.7" cy="595.5" r="3.3" fill="#ff6b48"/>
<circle cx="302.6" cy="595.5" r="3.3" fill="#ff6b48"/>
<circle cx="316.5" cy="597.1" r="3.3" fill="#ff6b48"/>
<circle cx="330.4" cy="598.0" r="3.3" fill="#ff6b48"/>
<circle cx="344.3" cy="598.0" r="3.3" fill="#ff6b48"/>
<circle cx="358.2" cy="597.1" r="3.3" fill="#ff6b48"/>
<circle cx="372.1" cy="597.1" r="3.3" fill="#ff6b48"/>
<polyline points="66.2,486.5 80.1,505.2 94.0,526.9 107.9,551.0 121.8,577.2 135.7,592.1 149.6,595.9 163.5,595.5 177.5,593.8 191.4,590.9 205.3,589.6 219.2,586.7 233.1,584.2 247.0,580.9" fill="none" stroke="#ffa068" stroke-width="2.0" stroke-linejoin="round"/>
<circle cx="66.2" cy="486.5" r="3.3" fill="#ffa068"/>
<circle cx="80.1" cy="505.2" r="3.3" fill="#ffa068"/>
<circle cx="94.0" cy="526.9" r="3.3" fill="#ffa068"/>
<circle cx="107.9" cy="551.0" r="3.3" fill="#ffa068"/>
<circle cx="121.8" cy="577.2" r="3.3" fill="#ffa068"/>
<circle cx="135.7" cy="592.1" r="3.3" fill="#ffa068"/>
<circle cx="149.6" cy="595.9" r="3.3" fill="#ffa068"/>
<circle cx="163.5" cy="595.5" r="3.3" fill="#ffa068"/>
<circle cx="177.5" cy="593.8" r="3.3" fill="#ffa068"/>
<circle cx="191.4" cy="590.9" r="3.3" fill="#ffa068"/>
<circle cx="205.3" cy="589.6" r="3.3" fill="#ffa068"/>
<circle cx="219.2" cy="586.7" r="3.3" fill="#ffa068"/>
<circle cx="233.1" cy="584.2" r="3.3" fill="#ffa068"/>
<circle cx="247.0" cy="580.9" r="3.3" fill="#ffa068"/>
<polyline points="66.2,487.8 80.1,505.2 94.0,533.9 107.9,555.1 121.8,568.0 135.7,571.4 149.6,573.0 163.5,569.3 177.5,568.9 191.4,567.6 205.3,568.0 219.2,565.9 233.1,564.3 247.0,565.9" fill="none" stroke="#e2c82a" stroke-width="2.0" stroke-linejoin="round"/>
<circle cx="66.2" cy="487.8" r="3.3" fill="#e2c82a"/>
<circle cx="80.1" cy="505.2" r="3.3" fill="#e2c82a"/>
<circle cx="94.0" cy="533.9" r="3.3" fill="#e2c82a"/>
<circle cx="107.9" cy="555.1" r="3.3" fill="#e2c82a"/>
<circle cx="121.8" cy="568.0" r="3.3" fill="#e2c82a"/>
<circle cx="135.7" cy="571.4" r="3.3" fill="#e2c82a"/>
<circle cx="149.6" cy="573.0" r="3.3" fill="#e2c82a"/>
<circle cx="163.5" cy="569.3" r="3.3" fill="#e2c82a"/>
<circle cx="177.5" cy="568.9" r="3.3" fill="#e2c82a"/>
<circle cx="191.4" cy="567.6" r="3.3" fill="#e2c82a"/>
<circle cx="205.3" cy="568.0" r="3.3" fill="#e2c82a"/>
<circle cx="219.2" cy="565.9" r="3.3" fill="#e2c82a"/>
<circle cx="233.1" cy="564.3" r="3.3" fill="#e2c82a"/>
<circle cx="247.0" cy="565.9" r="3.3" fill="#e2c82a"/>
<line x1="102" y1="497" x2="185" y2="664" stroke="#000" stroke-width="1.6" stroke-dasharray="10.7,5.2"/>
<line x1="146.9" y1="528.4" x2="130" y2="533.5" stroke="#000" stroke-width="2.2"/>
<polygon points="123.5,535.5 132,528 134.5,537" fill="#000"/>
<text x="154.3" y="533" font-size="13" fill="#333">f<tspan font-size="9.5" dy="5.7" dx="0.6" fill="#555">H</tspan></text>
<line x1="254.8" y1="500.6" x2="304.9" y2="500.6" stroke="#2630b0" stroke-width="2.0"/>
<circle cx="279.9" cy="500.6" r="3.2" fill="#2630b0"/>
<text x="309.1" y="504.8" font-size="11.5" fill="#222" text-anchor="start" font-weight="normal" >D = 0.2</text>
<line x1="254.8" y1="515.4" x2="304.9" y2="515.4" stroke="#a00aa0" stroke-width="1.6"/>
<circle cx="279.9" cy="515.4" r="3.2" fill="#a00aa0"/>
<text x="309.1" y="519.6" font-size="11.5" fill="#222" text-anchor="start" font-weight="normal" >D = 0.25</text>
<line x1="254.8" y1="529.9" x2="304.9" y2="529.9" stroke="#ee2a78" stroke-width="2.0"/>
<circle cx="279.9" cy="529.9" r="3.2" fill="#ee2a78"/>
<text x="309.1" y="534.1" font-size="11.5" fill="#222" text-anchor="start" font-weight="normal" >D = 0.3</text>
<line x1="254.8" y1="544.6" x2="304.9" y2="544.6" stroke="#ff6b48" stroke-width="1.6"/>
<circle cx="279.9" cy="544.6" r="3.2" fill="#ff6b48"/>
<text x="309.1" y="548.8" font-size="11.5" fill="#222" text-anchor="start" font-weight="normal" >D = 0.35</text>
<line x1="254.8" y1="559.1" x2="304.9" y2="559.1" stroke="#ffa068" stroke-width="2.0"/>
<circle cx="279.9" cy="559.1" r="3.2" fill="#ffa068"/>
<text x="309.1" y="563.3" font-size="11.5" fill="#222" text-anchor="start" font-weight="normal" >D = 0.4</text>
<line x1="254.8" y1="573.9" x2="304.9" y2="573.9" stroke="#e2c82a" stroke-width="2.0"/>
<circle cx="279.9" cy="573.9" r="3.2" fill="#e2c82a"/>
<text x="309.1" y="578.1" font-size="11.5" fill="#222" text-anchor="start" font-weight="normal" >D = 0.45</text>
<text x="11.5" y="475.2" font-size="13" fill="#000" text-anchor="start" font-weight="bold" >c</text>
</g>
<g>
<rect x="422.2" y="474.8" width="336.6" height="191.4" fill="none" stroke="#000" stroke-width="1.5"/>
<line x1="422.2" y1="666.2" x2="426.2" y2="666.2" stroke="#000" stroke-width="1.4"/>
<line x1="758.8" y1="666.2" x2="754.8" y2="666.2" stroke="#000" stroke-width="1.4"/>
<text x="419.8" y="670.0" font-size="10" fill="#404040" text-anchor="end" font-weight="normal" >0</text>
<line x1="422.2" y1="634.3" x2="426.2" y2="634.3" stroke="#000" stroke-width="1.4"/>
<line x1="758.8" y1="634.3" x2="754.8" y2="634.3" stroke="#000" stroke-width="1.4"/>
<text x="419.8" y="638.1" font-size="10" fill="#404040" text-anchor="end" font-weight="normal" >0.1</text>
<line x1="422.2" y1="602.4" x2="426.2" y2="602.4" stroke="#000" stroke-width="1.4"/>
<line x1="758.8" y1="602.4" x2="754.8" y2="602.4" stroke="#000" stroke-width="1.4"/>
<text x="419.8" y="606.2" font-size="10" fill="#404040" text-anchor="end" font-weight="normal" >0.2</text>
<line x1="422.2" y1="570.4" x2="426.2" y2="570.4" stroke="#000" stroke-width="1.4"/>
<line x1="758.8" y1="570.4" x2="754.8" y2="570.4" stroke="#000" stroke-width="1.4"/>
<text x="419.8" y="574.2" font-size="10" fill="#404040" text-anchor="end" font-weight="normal" >0.3</text>
<line x1="422.2" y1="538.5" x2="426.2" y2="538.5" stroke="#000" stroke-width="1.4"/>
<line x1="758.8" y1="538.5" x2="754.8" y2="538.5" stroke="#000" stroke-width="1.4"/>
<text x="419.8" y="542.3" font-size="10" fill="#404040" text-anchor="end" font-weight="normal" >0.4</text>
<line x1="422.2" y1="506.6" x2="426.2" y2="506.6" stroke="#000" stroke-width="1.4"/>
<line x1="758.8" y1="506.6" x2="754.8" y2="506.6" stroke="#000" stroke-width="1.4"/>
<text x="419.8" y="510.4" font-size="10" fill="#404040" text-anchor="end" font-weight="normal" >0.5</text>
<line x1="422.2" y1="474.7" x2="426.2" y2="474.7" stroke="#000" stroke-width="1.4"/>
<line x1="758.8" y1="474.7" x2="754.8" y2="474.7" stroke="#000" stroke-width="1.4"/>
<text x="419.8" y="478.5" font-size="10" fill="#404040" text-anchor="end" font-weight="normal" >0.6</text>
<line x1="422.2" y1="666.2" x2="422.2" y2="662.2" stroke="#000" stroke-width="1.4"/>
<line x1="422.2" y1="474.8" x2="422.2" y2="478.8" stroke="#000" stroke-width="1.4"/>
<text x="422.2" y="678.9" font-size="10" fill="#404040" text-anchor="middle" font-weight="normal" >80</text>
<line x1="478.3" y1="666.2" x2="478.3" y2="662.2" stroke="#000" stroke-width="1.4"/>
<line x1="478.3" y1="474.8" x2="478.3" y2="478.8" stroke="#000" stroke-width="1.4"/>
<text x="478.3" y="678.9" font-size="10" fill="#404040" text-anchor="middle" font-weight="normal" >100</text>
<line x1="534.4" y1="666.2" x2="534.4" y2="662.2" stroke="#000" stroke-width="1.4"/>
<line x1="534.4" y1="474.8" x2="534.4" y2="478.8" stroke="#000" stroke-width="1.4"/>
<text x="534.4" y="678.9" font-size="10" fill="#404040" text-anchor="middle" font-weight="normal" >120</text>
<line x1="590.5" y1="666.2" x2="590.5" y2="662.2" stroke="#000" stroke-width="1.4"/>
<line x1="590.5" y1="474.8" x2="590.5" y2="478.8" stroke="#000" stroke-width="1.4"/>
<text x="590.5" y="678.9" font-size="10" fill="#404040" text-anchor="middle" font-weight="normal" >140</text>
<line x1="646.6" y1="666.2" x2="646.6" y2="662.2" stroke="#000" stroke-width="1.4"/>
<line x1="646.6" y1="474.8" x2="646.6" y2="478.8" stroke="#000" stroke-width="1.4"/>
<text x="646.6" y="678.9" font-size="10" fill="#404040" text-anchor="middle" font-weight="normal" >160</text>
<line x1="702.7" y1="666.2" x2="702.7" y2="662.2" stroke="#000" stroke-width="1.4"/>
<line x1="702.7" y1="474.8" x2="702.7" y2="478.8" stroke="#000" stroke-width="1.4"/>
<text x="702.7" y="678.9" font-size="10" fill="#404040" text-anchor="middle" font-weight="normal" >180</text>
<line x1="758.8" y1="666.2" x2="758.8" y2="662.2" stroke="#000" stroke-width="1.4"/>
<line x1="758.8" y1="474.8" x2="758.8" y2="478.8" stroke="#000" stroke-width="1.4"/>
<text x="758.8" y="678.9" font-size="10" fill="#404040" text-anchor="middle" font-weight="normal" >200</text>
<text x="591.0" y="692.6" font-size="11.7" fill="#3a3a3a" text-anchor="middle" font-weight="normal" >Frequency (kHz)</text>
<text transform="translate(403,595.3) rotate(-90)" font-size="12" fill="#333">Efficiency</text>
<text x="591.0" y="471.0" font-size="11.7" fill="#3a3a3a" text-anchor="middle" font-weight="normal" >Efficiency vs. Frequency (D = 0.2)</text>
<polyline points="422.2,532.5 436.2,514.3 450.2,500.9 464.3,483.3 478.3,489.0 492.3,491.0 506.4,485.2 520.4,483.3 534.4,481.4 548.4,495.4 562.5,506.6 576.5,525.8 590.5,535.0 604.5,547.8 618.5,557.0 632.6,566.0 646.6,570.4 660.6,577.1 674.6,581.3 688.7,585.4 702.7,589.6 716.7,592.1 730.8,594.7 744.8,597.3 758.8,598.8" fill="none" stroke="#1c3a9e" stroke-width="2.1" stroke-linejoin="round"/>
<circle cx="422.2" cy="532.5" r="3.6" fill="#1c3a9e"/>
<circle cx="436.2" cy="514.3" r="3.6" fill="#1c3a9e"/>
<circle cx="450.2" cy="500.9" r="3.6" fill="#1c3a9e"/>
<circle cx="464.3" cy="483.3" r="3.6" fill="#1c3a9e"/>
<circle cx="478.3" cy="489.0" r="3.6" fill="#1c3a9e"/>
<circle cx="492.3" cy="491.0" r="3.6" fill="#1c3a9e"/>
<circle cx="506.4" cy="485.2" r="3.6" fill="#1c3a9e"/>
<circle cx="520.4" cy="483.3" r="3.6" fill="#1c3a9e"/>
<circle cx="534.4" cy="481.4" r="3.6" fill="#1c3a9e"/>
<circle cx="548.4" cy="495.4" r="3.6" fill="#1c3a9e"/>
<circle cx="562.5" cy="506.6" r="3.6" fill="#1c3a9e"/>
<circle cx="576.5" cy="525.8" r="3.6" fill="#1c3a9e"/>
<circle cx="590.5" cy="535.0" r="3.6" fill="#1c3a9e"/>
<circle cx="604.5" cy="547.8" r="3.6" fill="#1c3a9e"/>
<circle cx="618.5" cy="557.0" r="3.6" fill="#1c3a9e"/>
<circle cx="632.6" cy="566.0" r="3.6" fill="#1c3a9e"/>
<circle cx="646.6" cy="570.4" r="3.6" fill="#1c3a9e"/>
<circle cx="660.6" cy="577.1" r="3.6" fill="#1c3a9e"/>
<circle cx="674.6" cy="581.3" r="3.6" fill="#1c3a9e"/>
<circle cx="688.7" cy="585.4" r="3.6" fill="#1c3a9e"/>
<circle cx="702.7" cy="589.6" r="3.6" fill="#1c3a9e"/>
<circle cx="716.7" cy="592.1" r="3.6" fill="#1c3a9e"/>
<circle cx="730.8" cy="594.7" r="3.6" fill="#1c3a9e"/>
<circle cx="744.8" cy="597.3" r="3.6" fill="#1c3a9e"/>
<circle cx="758.8" cy="598.8" r="3.6" fill="#1c3a9e"/>
<polyline points="422.2,569.8 436.2,554.5 450.2,546.2 464.3,539.5 478.3,531.8 492.3,538.5 506.4,531.8 520.4,529.9 534.4,523.5 548.4,530.2 562.5,541.4 576.5,556.7 590.5,570.4 604.5,579.1 618.5,587.4 632.6,595.3 646.6,601.1 660.6,605.2 674.6,609.4 688.7,613.5 702.7,616.7 716.7,618.6 730.8,620.2 744.8,622.2 758.8,623.4" fill="none" stroke="#9a34a2" stroke-width="2.1" stroke-linejoin="round"/>
<circle cx="422.2" cy="569.8" r="3.6" fill="#9a34a2"/>
<circle cx="436.2" cy="554.5" r="3.6" fill="#9a34a2"/>
<circle cx="450.2" cy="546.2" r="3.6" fill="#9a34a2"/>
<circle cx="464.3" cy="539.5" r="3.6" fill="#9a34a2"/>
<circle cx="478.3" cy="531.8" r="3.6" fill="#9a34a2"/>
<circle cx="492.3" cy="538.5" r="3.6" fill="#9a34a2"/>
<circle cx="506.4" cy="531.8" r="3.6" fill="#9a34a2"/>
<circle cx="520.4" cy="529.9" r="3.6" fill="#9a34a2"/>
<circle cx="534.4" cy="523.5" r="3.6" fill="#9a34a2"/>
<circle cx="548.4" cy="530.2" r="3.6" fill="#9a34a2"/>
<circle cx="562.5" cy="541.4" r="3.6" fill="#9a34a2"/>
<circle cx="576.5" cy="556.7" r="3.6" fill="#9a34a2"/>
<circle cx="590.5" cy="570.4" r="3.6" fill="#9a34a2"/>
<circle cx="604.5" cy="579.1" r="3.6" fill="#9a34a2"/>
<circle cx="618.5" cy="587.4" r="3.6" fill="#9a34a2"/>
<circle cx="632.6" cy="595.3" r="3.6" fill="#9a34a2"/>
<circle cx="646.6" cy="601.1" r="3.6" fill="#9a34a2"/>
<circle cx="660.6" cy="605.2" r="3.6" fill="#9a34a2"/>
<circle cx="674.6" cy="609.4" r="3.6" fill="#9a34a2"/>
<circle cx="688.7" cy="613.5" r="3.6" fill="#9a34a2"/>
<circle cx="702.7" cy="616.7" r="3.6" fill="#9a34a2"/>
<circle cx="716.7" cy="618.6" r="3.6" fill="#9a34a2"/>
<circle cx="730.8" cy="620.2" r="3.6" fill="#9a34a2"/>
<circle cx="744.8" cy="622.2" r="3.6" fill="#9a34a2"/>
<circle cx="758.8" cy="623.4" r="3.6" fill="#9a34a2"/>
<polyline points="422.2,615.1 436.2,607.5 450.2,601.4 464.3,598.5 478.3,594.7 492.3,591.5 506.4,589.6 520.4,591.8 534.4,585.4 548.4,585.8 562.5,590.9 576.5,601.7 590.5,610.3 604.5,617.4 618.5,623.1 632.6,628.2 646.6,631.4 660.6,634.3 674.6,637.2 688.7,639.1 702.7,641.3 716.7,642.9 730.8,643.9 744.8,644.8 758.8,645.8" fill="none" stroke="#e24884" stroke-width="2.1" stroke-linejoin="round"/>
<circle cx="422.2" cy="615.1" r="3.6" fill="#e24884"/>
<circle cx="436.2" cy="607.5" r="3.6" fill="#e24884"/>
<circle cx="450.2" cy="601.4" r="3.6" fill="#e24884"/>
<circle cx="464.3" cy="598.5" r="3.6" fill="#e24884"/>
<circle cx="478.3" cy="594.7" r="3.6" fill="#e24884"/>
<circle cx="492.3" cy="591.5" r="3.6" fill="#e24884"/>
<circle cx="506.4" cy="589.6" r="3.6" fill="#e24884"/>
<circle cx="520.4" cy="591.8" r="3.6" fill="#e24884"/>
<circle cx="534.4" cy="585.4" r="3.6" fill="#e24884"/>
<circle cx="548.4" cy="585.8" r="3.6" fill="#e24884"/>
<circle cx="562.5" cy="590.9" r="3.6" fill="#e24884"/>
<circle cx="576.5" cy="601.7" r="3.6" fill="#e24884"/>
<circle cx="590.5" cy="610.3" r="3.6" fill="#e24884"/>
<circle cx="604.5" cy="617.4" r="3.6" fill="#e24884"/>
<circle cx="618.5" cy="623.1" r="3.6" fill="#e24884"/>
<circle cx="632.6" cy="628.2" r="3.6" fill="#e24884"/>
<circle cx="646.6" cy="631.4" r="3.6" fill="#e24884"/>
<circle cx="660.6" cy="634.3" r="3.6" fill="#e24884"/>
<circle cx="674.6" cy="637.2" r="3.6" fill="#e24884"/>
<circle cx="688.7" cy="639.1" r="3.6" fill="#e24884"/>
<circle cx="702.7" cy="641.3" r="3.6" fill="#e24884"/>
<circle cx="716.7" cy="642.9" r="3.6" fill="#e24884"/>
<circle cx="730.8" cy="643.9" r="3.6" fill="#e24884"/>
<circle cx="744.8" cy="644.8" r="3.6" fill="#e24884"/>
<circle cx="758.8" cy="645.8" r="3.6" fill="#e24884"/>
<polyline points="422.2,635.2 436.2,630.1 450.2,626.3 464.3,624.4 478.3,622.2 492.3,620.2 506.4,619.6 520.4,618.0 534.4,616.7 548.4,616.1 562.5,619.6 576.5,626.9 590.5,633.6 604.5,638.4 618.5,641.9 632.6,645.5 646.6,647.7 660.6,649.3 674.6,650.9 688.7,651.8 702.7,653.1 716.7,653.4 730.8,653.8 744.8,654.7 758.8,655.3" fill="none" stroke="#fd7358" stroke-width="2.1" stroke-linejoin="round"/>
<circle cx="422.2" cy="635.2" r="3.6" fill="#fd7358"/>
<circle cx="436.2" cy="630.1" r="3.6" fill="#fd7358"/>
<circle cx="450.2" cy="626.3" r="3.6" fill="#fd7358"/>
<circle cx="464.3" cy="624.4" r="3.6" fill="#fd7358"/>
<circle cx="478.3" cy="622.2" r="3.6" fill="#fd7358"/>
<circle cx="492.3" cy="620.2" r="3.6" fill="#fd7358"/>
<circle cx="506.4" cy="619.6" r="3.6" fill="#fd7358"/>
<circle cx="520.4" cy="618.0" r="3.6" fill="#fd7358"/>
<circle cx="534.4" cy="616.7" r="3.6" fill="#fd7358"/>
<circle cx="548.4" cy="616.1" r="3.6" fill="#fd7358"/>
<circle cx="562.5" cy="619.6" r="3.6" fill="#fd7358"/>
<circle cx="576.5" cy="626.9" r="3.6" fill="#fd7358"/>
<circle cx="590.5" cy="633.6" r="3.6" fill="#fd7358"/>
<circle cx="604.5" cy="638.4" r="3.6" fill="#fd7358"/>
<circle cx="618.5" cy="641.9" r="3.6" fill="#fd7358"/>
<circle cx="632.6" cy="645.5" r="3.6" fill="#fd7358"/>
<circle cx="646.6" cy="647.7" r="3.6" fill="#fd7358"/>
<circle cx="660.6" cy="649.3" r="3.6" fill="#fd7358"/>
<circle cx="674.6" cy="650.9" r="3.6" fill="#fd7358"/>
<circle cx="688.7" cy="651.8" r="3.6" fill="#fd7358"/>
<circle cx="702.7" cy="653.1" r="3.6" fill="#fd7358"/>
<circle cx="716.7" cy="653.4" r="3.6" fill="#fd7358"/>
<circle cx="730.8" cy="653.8" r="3.6" fill="#fd7358"/>
<circle cx="744.8" cy="654.7" r="3.6" fill="#fd7358"/>
<circle cx="758.8" cy="655.3" r="3.6" fill="#fd7358"/>
<line x1="625.1" y1="494.5" x2="675.3" y2="494.5" stroke="#1c3a9e" stroke-width="1.6"/>
<circle cx="650.5" cy="494.5" r="3.5" fill="#1c3a9e"/>
<text x="679.2" y="498.7" font-size="11.5" fill="#222" text-anchor="start" font-weight="normal" >R = 100 M&#937;</text>
<line x1="625.1" y1="508.3" x2="675.3" y2="508.3" stroke="#9a34a2" stroke-width="1.6"/>
<circle cx="650.5" cy="508.3" r="3.5" fill="#9a34a2"/>
<text x="679.2" y="512.5" font-size="11.5" fill="#222" text-anchor="start" font-weight="normal" >R = 200 M&#937;</text>
<line x1="625.1" y1="522.7" x2="675.3" y2="522.7" stroke="#e24884" stroke-width="1.6"/>
<circle cx="650.5" cy="522.7" r="3.5" fill="#e24884"/>
<text x="679.2" y="526.9" font-size="11.5" fill="#222" text-anchor="start" font-weight="normal" >R = 500 M&#937;</text>
<line x1="625.1" y1="537.1" x2="675.3" y2="537.1" stroke="#fd7358" stroke-width="1.6"/>
<circle cx="650.5" cy="537.1" r="3.5" fill="#fd7358"/>
<text x="679.2" y="541.3" font-size="11.5" fill="#222" text-anchor="start" font-weight="normal" >R = 1 G&#937;</text>
<text x="389.8" y="474.4" font-size="13" fill="#000" text-anchor="start" font-weight="bold" >d</text>
</g>
</svg></body></html>
